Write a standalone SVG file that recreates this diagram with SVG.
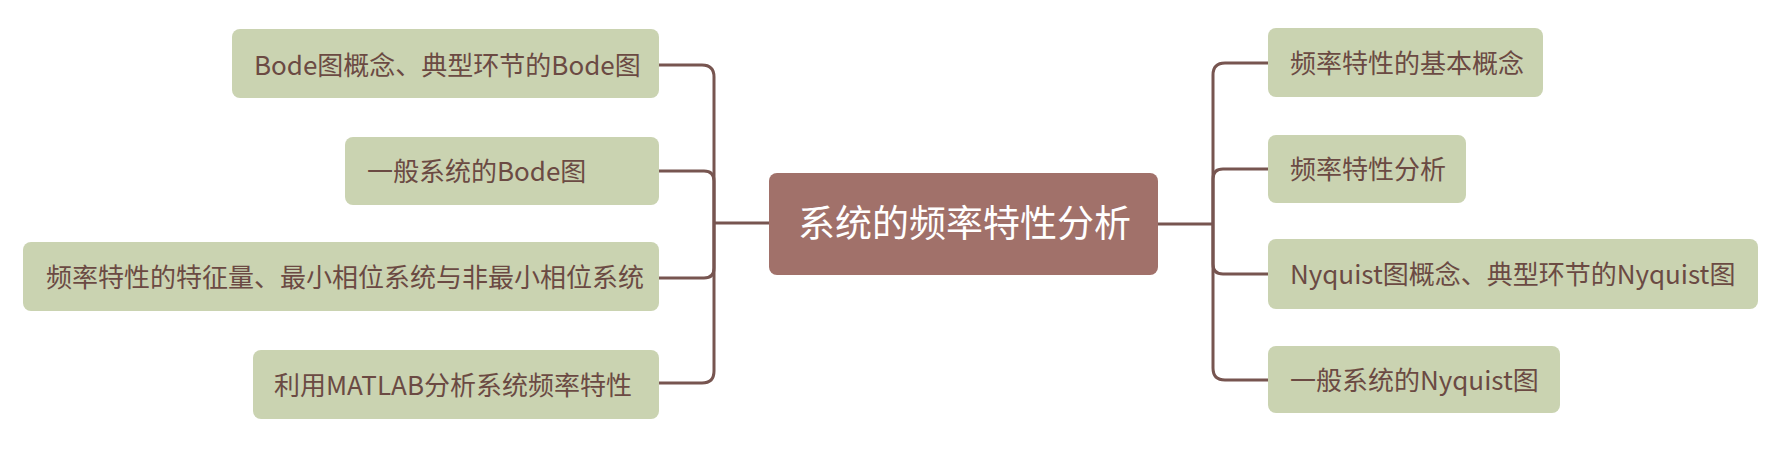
<svg xmlns="http://www.w3.org/2000/svg" width="1777" height="455" viewBox="0 0 1777 455">
<style>
.child rect{fill:#cad3b1}
.child text{fill:#6b4a43;font-family:"Noto Sans CJK SC","Microsoft YaHei",sans-serif;font-size:26px}
.root rect{fill:#a1716a}
.root text{fill:#ffffff;font-family:"Noto Sans CJK SC","Microsoft YaHei",sans-serif;font-size:37px}
#connectors path{fill:none;stroke:#775550;stroke-width:3;stroke-linecap:butt}
</style>
<rect width="1777" height="455" fill="#ffffff"/>
<g id="connectors">
<path d="M769 223H714"/>
<path d="M659 65H702Q714 65 714 77V223"/>
<path d="M659 171H704Q714 171 714 181V223"/>
<path d="M659 278H704Q714 278 714 268V223"/>
<path d="M659 383H702Q714 383 714 371V223"/>
<path d="M1158 224H1213"/>
<path d="M1268 63H1225Q1213 63 1213 75V224"/>
<path d="M1268 169H1223Q1213 169 1213 179V224"/>
<path d="M1268 274H1223Q1213 274 1213 264V224"/>
<path d="M1268 380H1225Q1213 380 1213 368V224"/>
</g>
<g id="root" class="root">
<rect x="769" y="173" width="389" height="102" rx="8"/>
<text x="798" y="237">系统的频率特性分析</text>
</g>
<g id="l1" class="child">
<rect x="232" y="29" width="427" height="69" rx="8"/>
<text x="254" y="75">Bode图概念、典型环节的Bode图</text>
</g>
<g id="l2" class="child">
<rect x="345" y="137" width="314" height="68" rx="8"/>
<text x="367" y="181">一般系统的Bode图</text>
</g>
<g id="l3" class="child">
<rect x="23" y="242" width="636" height="69" rx="8"/>
<text x="46" y="287">频率特性的特征量、最小相位系统与非最小相位系统</text>
</g>
<g id="l4" class="child">
<rect x="253" y="350" width="406" height="69" rx="8"/>
<text x="274" y="395">利用MATLAB分析系统频率特性</text>
</g>
<g id="r1" class="child">
<rect x="1268" y="28" width="275" height="69" rx="8"/>
<text x="1290" y="73">频率特性的基本概念</text>
</g>
<g id="r2" class="child">
<rect x="1268" y="135" width="198" height="68" rx="8"/>
<text x="1290" y="179">频率特性分析</text>
</g>
<g id="r3" class="child">
<rect x="1268" y="239" width="490" height="70" rx="8"/>
<text x="1290" y="284">Nyquist图概念、典型环节的Nyquist图</text>
</g>
<g id="r4" class="child">
<rect x="1268" y="346" width="292" height="67" rx="8"/>
<text x="1290" y="390">一般系统的Nyquist图</text>
</g>
</svg>
